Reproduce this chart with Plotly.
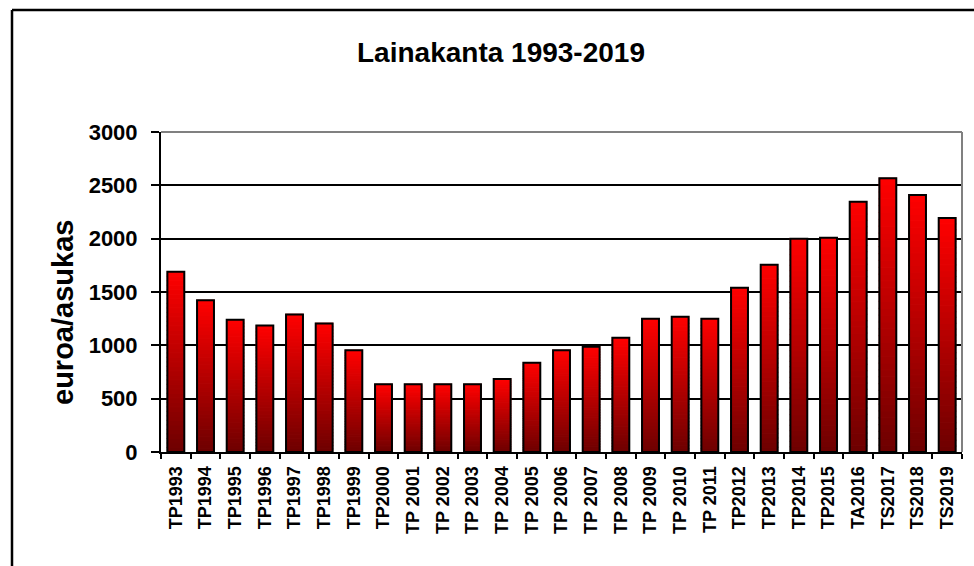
import plotly.graph_objects as go

categories = ["TP1993", "TP1994", "TP1995", "TP1996", "TP1997", "TP1998", "TP1999",
              "TP2000", "TP 2001", "TP 2002", "TP 2003", "TP 2004", "TP 2005", "TP 2006",
              "TP 2007", "TP 2008", "TP 2009", "TP 2010", "TP 2011", "TP2012", "TP2013",
              "TP2014", "TP2015", "TA2016", "TS2017", "TS2018", "TS2019"]
values = [1690, 1422, 1240, 1185, 1290, 1205, 953,
          634, 634, 634, 634, 684, 837, 953,
          987, 1072, 1250, 1269, 1250, 1541, 1756,
          2000, 2009, 2347, 2566, 2409, 2194]
y_ticks = [0, 500, 1000, 1500, 2000, 2500, 3000]

FONT = "Arial, Liberation Sans, sans-serif"
N = 40
top_rgb = (255, 0, 0)
bot_rgb = (108, 0, 0)

fig = go.Figure()
for k in range(N):
    t = (k + 0.5) / N
    c = tuple(round(bot_rgb[i] + (top_rgb[i] - bot_rgb[i]) * t) for i in range(3))
    col = f"rgb({c[0]},{c[1]},{c[2]})"
    fig.add_bar(x=categories, y=[v / N for v in values], base=[v * k / N for v in values],
                width=0.57, marker=dict(color=col, line=dict(color=col, width=1.2)),
                showlegend=False, hoverinfo="skip")
fig.add_bar(x=categories, y=values, width=0.57,
            marker=dict(color="rgba(0,0,0,0)", line=dict(color="black", width=2)),
            showlegend=False, name="euroa/asukas")

L, R, T, B = 161, 12, 132, 114
W, H = 974, 566
pw, ph = W - L - R, H - T - B

def px(x):
    return (x - L) / pw

def py(y):
    return (H - B - y) / ph

shapes = [
    dict(type="line", xref="paper", yref="paper", x0=0, x1=1, y0=1, y1=1,
         line=dict(color="#808080", width=2), layer="above"),
    dict(type="line", xref="paper", yref="paper", x0=1, x1=1, y0=0, y1=1,
         line=dict(color="#808080", width=2), layer="above"),
    dict(type="line", xref="paper", yref="paper", x0=px(12), x1=px(12), y0=py(10), y1=py(600),
         line=dict(color="black", width=2.5)),
    dict(type="line", xref="paper", yref="paper", x0=px(12), x1=px(1000), y0=py(10), y1=py(10),
         line=dict(color="black", width=2.5)),
]

fig.update_layout(
    width=W, height=H,
    margin=dict(l=L, r=R, t=T, b=B),
    paper_bgcolor="white", plot_bgcolor="white",
    barmode="overlay",
    font=dict(family=FONT, color="black"),
    title=dict(text="Lainakanta 1993-2019", x=501 / W, xanchor="center",
               y=1 - 52 / H, yanchor="middle",
               font=dict(family=FONT, size=28, weight="bold", color="black")),
    shapes=shapes,
    annotations=[dict(text="euroa/asukas", xref="paper", yref="paper",
                      x=px(63), y=py(313), xanchor="center", yanchor="middle",
                      textangle=-90, showarrow=False,
                      font=dict(family=FONT, size=29, weight="bold", color="black"))],
    xaxis=dict(type="category", tickson="boundaries", ticks="outside", ticklen=5,
               tickcolor="black", tickwidth=1.5,
               showline=True, linecolor="black", linewidth=2,
               showgrid=False, tickangle=-90, ticklabelstandoff=5,
               tickfont=dict(family=FONT, size=18, weight="bold", color="black"),
               range=[-0.5, len(categories) - 0.5]),
    yaxis=dict(range=[0, 3000], tickvals=y_ticks, ticks="outside", ticklen=8,
               tickcolor="black", tickwidth=1.5,
               showline=True, linecolor="black", linewidth=2,
               showgrid=True, gridcolor="black", gridwidth=1.5,
               zeroline=False, ticklabelstandoff=9,
               tickfont=dict(family=FONT, size=22, weight="bold", color="black")),
)

fig.write_html("out.html", config={"displayModeBar": False},
               post_script="document.body.style.margin='0';document.body.style.overflow='hidden';")
